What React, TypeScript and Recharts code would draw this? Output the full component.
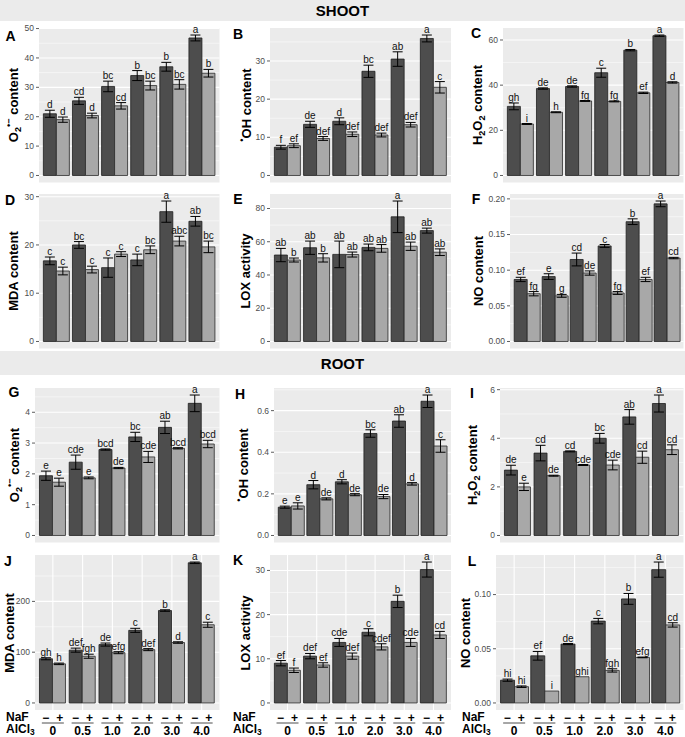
import React from 'react'
import { BarChart, Bar, XAxis, YAxis, CartesianGrid, ErrorBar, LabelList } from 'recharts'

const FONT = '"Liberation Sans", Arial, Helvetica, sans-serif'
const DARK = '#4d4d4d'
const LIGHT = '#a8a8a8'
const Y_W = 32

// AlCl3 levels (x categories)
const categories = ['0', '0.5', '1.0', '2.0', '3.0', '4.0']

// ---- SHOOT ----
// A  O2•− content
const shootO2Minus = [21.0, 25.4, 30.3, 34.0, 37.0, 46.8]
const shootO2MinusErr = [1.2, 1.2, 1.8, 1.7, 1.5, 1.0]
const shootO2Plus = [19.0, 20.4, 23.7, 30.6, 31.0, 34.8]
const shootO2PlusErr = [0.9, 0.8, 1.1, 1.5, 1.6, 1.3]
const shootO2MinusSig = ['d', 'cd', 'bc', 'b', 'b', 'a']
const shootO2PlusSig = ['d', 'd', 'cd', 'bc', 'bc', 'b']
const shootO2Ticks = [0, 10, 20, 30, 40, 50]

// B  •OH content
const shootOHMinus = [7.4, 13.4, 14.2, 27.3, 30.5, 35.9]
const shootOHMinusErr = [0.5, 0.8, 0.9, 1.6, 1.9, 0.9]
const shootOHPlus = [7.8, 9.7, 10.8, 10.6, 13.3, 23.1]
const shootOHPlusErr = [0.5, 0.5, 0.6, 0.5, 0.6, 1.5]
const shootOHMinusSig = ['f', 'de', 'd', 'bc', 'ab', 'a']
const shootOHPlusSig = ['ef', 'def', 'def', 'def', 'def', 'c']
const shootOHTicks = [0, 10, 20, 30]

// C  H2O2 content
const shootH2O2Minus = [30.6, 38.5, 39.4, 45.5, 55.5, 61.9]
const shootH2O2MinusErr = [1.5, 0.3, 0.3, 2.0, 0.3, 0.3]
const shootH2O2Plus = [22.8, 28.0, 33.0, 32.8, 36.6, 41.2]
const shootH2O2PlusErr = [0.2, 0.2, 0.2, 0.2, 0.3, 0.3]
const shootH2O2MinusSig = ['gh', 'de', 'de', 'c', 'b', 'a']
const shootH2O2PlusSig = ['i', 'h', 'fg', 'fg', 'ef', 'd']
const shootH2O2Ticks = [0, 20, 40, 60]

// D  MDA content
const shootMDAMinus = [16.7, 20.0, 15.3, 16.9, 26.9, 24.9]
const shootMDAMinusErr = [0.8, 0.7, 2.0, 1.2, 2.2, 1.0]
const shootMDAPlus = [14.6, 14.9, 18.1, 19.0, 20.8, 19.6]
const shootMDAPlusErr = [0.8, 0.7, 0.5, 0.8, 1.0, 1.2]
const shootMDAMinusSig = ['c', 'bc', 'c', 'c', 'a', 'ab']
const shootMDAPlusSig = ['c', 'c', 'c', 'bc', 'abc', 'bc']
const shootMDATicks = [0, 10, 20, 30]

// E  LOX activity
const shootLOXMinus = [52, 56.4, 52.4, 56.6, 75, 66.7]
const shootLOXMinusErr = [4, 4, 8, 2, 9.5, 1.5]
const shootLOXPlus = [49, 50.3, 52.3, 56, 57.3, 53.7]
const shootLOXPlusErr = [1.2, 2.5, 1.5, 2.3, 2.5, 2]
const shootLOXMinusSig = ['ab', 'ab', 'ab', 'ab', 'a', 'ab']
const shootLOXPlusSig = ['b', 'b', 'ab', 'ab', 'ab', 'ab']
const shootLOXTicks = [0, 20, 40, 60, 80]

// F  NO content
const shootNOMinus = [0.087, 0.091, 0.115, 0.134, 0.168, 0.193]
const shootNOMinusErr = [0.003, 0.004, 0.009, 0.002, 0.004, 0.004]
const shootNOPlus = [0.067, 0.064, 0.096, 0.068, 0.087, 0.117]
const shootNOPlusErr = [0.003, 0.002, 0.003, 0.002, 0.003, 0.001]
const shootNOMinusSig = ['ef', 'e', 'cd', 'c', 'b', 'a']
const shootNOPlusSig = ['fg', 'g', 'de', 'fg', 'ef', 'cd']
const shootNOTicks = [0, 0.05, 0.1, 0.15, 0.2]

// ---- ROOT ----
// G  O2•− content
const rootO2Minus = [1.94, 2.38, 2.79, 3.2, 3.51, 4.29]
const rootO2MinusErr = [0.15, 0.23, 0.02, 0.15, 0.2, 0.27]
const rootO2Plus = [1.73, 1.87, 2.19, 2.55, 2.83, 2.97]
const rootO2PlusErr = [0.13, 0.03, 0.02, 0.18, 0.02, 0.12]
const rootO2MinusSig = ['e', 'cde', 'bcd', 'bc', 'ab', 'a']
const rootO2PlusSig = ['e', 'e', 'de', 'cde', 'bcd', 'bcd']
const rootO2Ticks = [0, 1, 2, 3, 4]

// H  •OH content
const rootOHMinus = [0.136, 0.244, 0.258, 0.49, 0.55, 0.645]
const rootOHMinusErr = [0.005, 0.02, 0.01, 0.018, 0.03, 0.03]
const rootOHPlus = [0.142, 0.176, 0.196, 0.187, 0.248, 0.43]
const rootOHPlusErr = [0.015, 0.005, 0.005, 0.01, 0.006, 0.03]
const rootOHMinusSig = ['e', 'd', 'd', 'bc', 'ab', 'a']
const rootOHPlusSig = ['e', 'de', 'de', 'de', 'd', 'c']
const rootOHTicks = [0, 0.2, 0.4, 0.6]

// I  H2O2 content
const rootH2O2Minus = [2.69, 3.39, 3.46, 4.0, 4.88, 5.43]
const rootH2O2MinusErr = [0.2, 0.32, 0.02, 0.2, 0.3, 0.35]
const rootH2O2Plus = [2.0, 2.46, 2.9, 2.9, 3.22, 3.53]
const rootH2O2PlusErr = [0.15, 0.02, 0.02, 0.2, 0.25, 0.2]
const rootH2O2MinusSig = ['de', 'cd', 'cd', 'bc', 'ab', 'a']
const rootH2O2PlusSig = ['e', 'de', 'cde', 'cde', 'cd', 'cd']
const rootH2O2Ticks = [0, 2, 4, 6]

// J  MDA content
const rootMDAMinus = [87, 104, 115, 143, 182, 276]
const rootMDAMinusErr = [2, 4, 3, 4, 1.5, 1.5]
const rootMDAPlus = [77, 92, 99, 105, 119, 154]
const rootMDAPlusErr = [1.5, 4, 2, 2, 1.5, 5]
const rootMDAMinusSig = ['gh', 'def', 'de', 'c', 'b', 'a']
const rootMDAPlusSig = ['h', 'fgh', 'efg', 'def', 'd', 'c']
const rootMDATicks = [0, 100, 200]

// K  LOX activity
const rootLOXMinus = [9.0, 10.6, 13.7, 16.0, 23.0, 30.2]
const rootLOXMinusErr = [0.6, 0.6, 0.9, 0.8, 1.4, 1.7]
const rootLOXPlus = [7.4, 8.6, 10.6, 12.7, 13.7, 15.4]
const rootLOXPlusErr = [0.5, 0.5, 0.7, 0.7, 0.9, 0.8]
const rootLOXMinusSig = ['ef', 'def', 'cde', 'c', 'b', 'a']
const rootLOXPlusSig = ['f', 'ef', 'def', 'cdef', 'cde', 'cd']
const rootLOXTicks = [0, 10, 20, 30]

// L  NO content
const rootNOMinus = [0.021, 0.0435, 0.0543, 0.0755, 0.096, 0.123]
const rootNOMinusErr = [0.001, 0.004, 0.0005, 0.0025, 0.005, 0.007]
const rootNOPlus = [0.015, 0.011, 0.0242, 0.03, 0.042, 0.072]
const rootNOPlusErr = [0.0007, 0, 0, 0.0015, 0.0003, 0.002]
const rootNOMinusSig = ['hi', 'ef', 'de', 'c', 'b', 'a']
const rootNOPlusSig = ['hi', 'i', 'ghi', 'fgh', 'efg', 'cd']
const rootNOTicks = [0, 0.05, 0.1]

const supSt: React.CSSProperties = { fontSize: '0.7em', verticalAlign: 'super', lineHeight: 0 }
const subSt: React.CSSProperties = { fontSize: '0.7em', verticalAlign: 'sub', lineHeight: 0 }
const o2Title = <>O<span style={subSt}>2</span><span style={supSt}>•−</span> content</>
const ohTitle = <><span style={supSt}>•</span>OH content</>
const h2o2Title = <>H<span style={subSt}>2</span>O<span style={subSt}>2</span> content</>

type Spec = {
  letter: string
  title: React.ReactNode
  minus: number[]
  minusErr: number[]
  plus: number[]
  plusErr: number[]
  minusSig: string[]
  plusSig: string[]
  ticks: number[]
  digits: number
}

const specs: Spec[] = [
  { letter: 'A', title: o2Title, minus: shootO2Minus, minusErr: shootO2MinusErr, plus: shootO2Plus, plusErr: shootO2PlusErr, minusSig: shootO2MinusSig, plusSig: shootO2PlusSig, ticks: shootO2Ticks, digits: 0 },
  { letter: 'B', title: ohTitle, minus: shootOHMinus, minusErr: shootOHMinusErr, plus: shootOHPlus, plusErr: shootOHPlusErr, minusSig: shootOHMinusSig, plusSig: shootOHPlusSig, ticks: shootOHTicks, digits: 0 },
  { letter: 'C', title: h2o2Title, minus: shootH2O2Minus, minusErr: shootH2O2MinusErr, plus: shootH2O2Plus, plusErr: shootH2O2PlusErr, minusSig: shootH2O2MinusSig, plusSig: shootH2O2PlusSig, ticks: shootH2O2Ticks, digits: 0 },
  { letter: 'D', title: 'MDA content', minus: shootMDAMinus, minusErr: shootMDAMinusErr, plus: shootMDAPlus, plusErr: shootMDAPlusErr, minusSig: shootMDAMinusSig, plusSig: shootMDAPlusSig, ticks: shootMDATicks, digits: 0 },
  { letter: 'E', title: 'LOX activity', minus: shootLOXMinus, minusErr: shootLOXMinusErr, plus: shootLOXPlus, plusErr: shootLOXPlusErr, minusSig: shootLOXMinusSig, plusSig: shootLOXPlusSig, ticks: shootLOXTicks, digits: 0 },
  { letter: 'F', title: 'NO content', minus: shootNOMinus, minusErr: shootNOMinusErr, plus: shootNOPlus, plusErr: shootNOPlusErr, minusSig: shootNOMinusSig, plusSig: shootNOPlusSig, ticks: shootNOTicks, digits: 2 },
  { letter: 'G', title: o2Title, minus: rootO2Minus, minusErr: rootO2MinusErr, plus: rootO2Plus, plusErr: rootO2PlusErr, minusSig: rootO2MinusSig, plusSig: rootO2PlusSig, ticks: rootO2Ticks, digits: 0 },
  { letter: 'H', title: ohTitle, minus: rootOHMinus, minusErr: rootOHMinusErr, plus: rootOHPlus, plusErr: rootOHPlusErr, minusSig: rootOHMinusSig, plusSig: rootOHPlusSig, ticks: rootOHTicks, digits: 1 },
  { letter: 'I', title: h2o2Title, minus: rootH2O2Minus, minusErr: rootH2O2MinusErr, plus: rootH2O2Plus, plusErr: rootH2O2PlusErr, minusSig: rootH2O2MinusSig, plusSig: rootH2O2PlusSig, ticks: rootH2O2Ticks, digits: 0 },
  { letter: 'J', title: 'MDA content', minus: rootMDAMinus, minusErr: rootMDAMinusErr, plus: rootMDAPlus, plusErr: rootMDAPlusErr, minusSig: rootMDAMinusSig, plusSig: rootMDAPlusSig, ticks: rootMDATicks, digits: 0 },
  { letter: 'K', title: 'LOX activity', minus: rootLOXMinus, minusErr: rootLOXMinusErr, plus: rootLOXPlus, plusErr: rootLOXPlusErr, minusSig: rootLOXMinusSig, plusSig: rootLOXPlusSig, ticks: rootLOXTicks, digits: 0 },
  { letter: 'L', title: 'NO content', minus: rootNOMinus, minusErr: rootNOMinusErr, plus: rootNOPlus, plusErr: rootNOPlusErr, minusSig: rootNOMinusSig, plusSig: rootNOPlusSig, ticks: rootNOTicks, digits: 2 },
]

// layout (pixels)
const rowTops = [27.5, 194, 387.5, 555]
const rowHeights = [154.5, 154.5, 154.5, 155]
const colRights = [219.5, 451, 683.5]
const panelLefts = [39, 270, 503, 39, 270, 510, 35, 274, 500, 35, 270, 496]
const titleX = [13, 245.5, 477, 13, 245, 478, 14, 243, 472, 9, 244.5, 465]
const letterPos = [
  [10.5, 36], [238, 34], [476, 33],
  [10, 200], [238, 199], [476, 199],
  [14, 392], [240, 394], [472, 393],
  [8, 561], [238, 560], [472, 561],
]
const axisLabelLeft = [6, 233, 462]

function withMinor(majors: number[], top: number) {
  const step = majors[1] - majors[0]
  const out: number[] = []
  majors.forEach((m) => {
    out.push(m)
    if (m + step / 2 <= top) out.push(m + step / 2)
  })
  return out
}

const gridLine = (props: any) => (
  <line
    key={`h${props.index}`}
    x1={props.x1}
    x2={props.x2}
    y1={props.y1}
    y2={props.y2}
    stroke="#ffffff"
    strokeWidth={props.index % 2 === 0 ? 1.1 : 0.5}
  />
)

const yTick = (majors: number[], digits: number) => (props: any) => {
  const { x, y, payload } = props
  const isMajor = majors.some((m) => Math.abs(m - payload.value) < 1e-9)
  if (!isMajor) return <g />
  return (
    <g>
      <line x1={x + 2} x2={x + 5} y1={y} y2={y} stroke="#333" strokeWidth={0.8} />
      <text x={x} y={y} dy="0.34em" textAnchor="end" fontSize={8.5} fill="#4d4d4d" fontFamily={FONT}>
        {payload.value.toFixed(digits)}
      </text>
    </g>
  )
}

const naFTick = (props: any) => {
  const { x, y, payload } = props
  const st = { fontSize: 12, fontWeight: 700, fontFamily: FONT, fill: '#000' }
  return (
    <g>
      <text x={x - 7} y={y + 7.5} dy="0.35em" textAnchor="middle" {...st}>−</text>
      <text x={x + 7} y={y + 7.5} dy="0.35em" textAnchor="middle" {...st}>+</text>
      <line x1={x - 11} x2={x + 11} y1={y + 13} y2={y + 13} stroke="#222" strokeWidth={0.8} />
      <text x={x} y={y + 20.5} dy="0.35em" textAnchor="middle" {...st}>{payload.value}</text>
    </g>
  )
}

const sigLabel = (vals: number[], errs: number[]) => (props: any) => {
  const vb = props.viewBox || {}
  const x = props.x ?? vb.x
  const y = props.y ?? vb.y
  const w = props.width ?? vb.width
  const h = props.height ?? vb.height
  const i = props.index
  const v = vals[i]
  const perUnit = v ? Math.abs(h) / v : 0
  const top = Math.min(y, y + h) - errs[i] * perUnit
  return (
    <text x={x + w / 2} y={top - 2} textAnchor="middle" fontSize={10} fill="#111" fontFamily={FONT}>
      {props.value}
    </text>
  )
}

function Panel({ spec, idx }: { spec: Spec; idx: number }) {
  const row = Math.floor(idx / 3)
  const col = idx % 3
  const bottom = row === 3
  const left = panelLefts[idx]
  const plotW = colRights[col] - left
  const top = rowTops[row]
  const height = rowHeights[row]
  const xH = bottom ? 30 : 5
  const data = categories.map((cat, i) => ({
    cat,
    minus: spec.minus[i],
    minusErr: spec.minusErr[i],
    plus: spec.plus[i],
    plusErr: spec.plusErr[i],
    minusSig: spec.minusSig[i],
    plusSig: spec.plusSig[i],
  }))
  const M = Math.max(
    ...spec.minus.map((v, i) => v + spec.minusErr[i]),
    ...spec.plus.map((v, i) => v + spec.plusErr[i])
  )
  const domain = [-0.05 * M, 1.05 * M]
  const ticks = withMinor(spec.ticks, domain[1])
  const pad = (plotW * 0.1) / 6.2
  return (
    <>
      <div style={{ position: 'absolute', left: left - Y_W, top }}>
        <BarChart
          width={plotW + Y_W}
          height={height + xH}
          data={data}
          margin={{ top: 0, right: 0, bottom: 0, left: 0 }}
          barCategoryGap="5%"
          barGap={0}
        >
          <CartesianGrid fill="#ebebeb" stroke="#ffffff" strokeWidth={1.1} horizontal={gridLine} syncWithTicks />
          {bottom ? (
            <XAxis
              dataKey="cat"
              height={xH}
              padding={{ left: pad, right: pad }}
              axisLine={false}
              tickLine={false}
              tickSize={0}
              tickMargin={0}
              interval={0}
              tick={naFTick}
            />
          ) : (
            <XAxis
              dataKey="cat"
              height={xH}
              padding={{ left: pad, right: pad }}
              axisLine={false}
              tickLine={{ stroke: '#333', strokeWidth: 0.8 }}
              tickSize={3}
              interval={0}
              tick={false}
            />
          )}
          <YAxis
            type="number"
            width={Y_W}
            domain={domain}
            ticks={ticks}
            interval={0}
            axisLine={false}
            tickLine={false}
            tickSize={3}
            tickMargin={2}
            tick={yTick(spec.ticks, spec.digits)}
          />
          <Bar dataKey="minus" fill={DARK} stroke="#1e1e1e" strokeWidth={0.8} isAnimationActive={false}>
            <ErrorBar dataKey="minusErr" width={5} stroke="#000" strokeWidth={1} direction="y" isAnimationActive={false} />
            <LabelList dataKey="minusSig" content={sigLabel(spec.minus, spec.minusErr)} />
          </Bar>
          <Bar dataKey="plus" fill={LIGHT} stroke="#2a2a2a" strokeWidth={0.8} isAnimationActive={false}>
            <ErrorBar dataKey="plusErr" width={5} stroke="#000" strokeWidth={1} direction="y" isAnimationActive={false} />
            <LabelList dataKey="plusSig" content={sigLabel(spec.plus, spec.plusErr)} />
          </Bar>
        </BarChart>
      </div>
      <div
        style={{
          position: 'absolute',
          left: titleX[idx],
          top: top + height / 2,
          transform: 'translate(-50%, -50%) rotate(-90deg)',
          whiteSpace: 'nowrap',
          fontWeight: 700,
          fontSize: 13,
          lineHeight: 1,
        }}
      >
        {spec.title}
      </div>
      <div
        style={{
          position: 'absolute',
          left: letterPos[idx][0],
          top: letterPos[idx][1],
          transform: 'translate(-50%, -50%)',
          fontWeight: 700,
          fontSize: 14,
          lineHeight: 1,
        }}
      >
        {spec.letter}
      </div>
    </>
  )
}

const bandStyle: React.CSSProperties = {
  position: 'absolute',
  left: 0,
  width: 685,
  background: '#ebebeb',
  display: 'flex',
  alignItems: 'center',
  justifyContent: 'center',
  fontWeight: 700,
  fontSize: 15,
}

export default function App() {
  return (
    <div style={{ position: 'absolute', left: 0, top: 0, width: 685, height: 737, background: '#fff', fontFamily: FONT, overflow: 'hidden' }}>
      <style>{`.recharts-surface{overflow:visible}`}</style>
      <div style={{ ...bandStyle, top: 0, height: 21 }}>SHOOT</div>
      <div style={{ ...bandStyle, top: 351, height: 24 }}>ROOT</div>
      {specs.map((s, i) => (
        <Panel key={s.letter} spec={s} idx={i} />
      ))}
      {axisLabelLeft.map((x) => (
        <React.Fragment key={x}>
          <div style={{ position: 'absolute', left: x, top: 710.5, height: 12, fontWeight: 700, fontSize: 12, lineHeight: '12px' }}>NaF</div>
          <div style={{ position: 'absolute', left: x, top: 723, height: 13, fontWeight: 700, fontSize: 12, lineHeight: '12px', whiteSpace: 'nowrap' }}>
            AlCl<span style={{ fontSize: '0.7em', position: 'relative', top: 2 }}>3</span>
          </div>
        </React.Fragment>
      ))}
    </div>
  )
}
